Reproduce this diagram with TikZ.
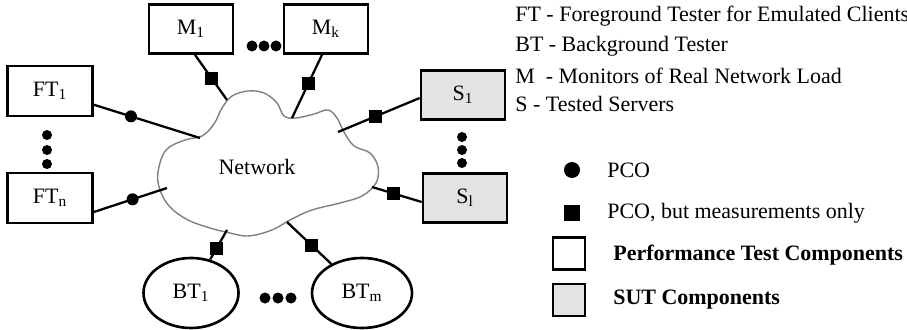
\documentclass[tikz,border=0pt]{standalone}
\usepackage{fontspec}
\setmainfont{Liberation Serif}
\usetikzlibrary{shapes, arrows, arrows.meta}

\begin{document}
\begin{tikzpicture}[
    font=\fontsize{12.5}{15}\selectfont,
    box/.style={draw, line width=1.5pt, minimum width=1.68cm, minimum height=0.98cm},
    sut/.style={box, fill=gray!22},
    bt/.style={draw, ellipse, line width=1.5pt, minimum width=1.9cm, minimum height=1.4cm},
    link/.style={line width=1.3pt},
    pco/.style={circle, fill, inner sep=0pt, minimum size=0.24cm},
    meas/.style={rectangle, fill, inner sep=0pt, minimum size=0.26cm},
    key/.style={anchor=west, inner sep=0pt}
]
\useasboundingbox (0,0) rectangle (18.14,6.58);

            \node[box] (m1) at (3.82, 6.00) {M\textsubscript{1}};
            \node[box] (mk) at (6.52, 6.00) {M\textsubscript{k}};
            \node[box, minimum width=1.7cm, minimum height=1cm] (ft1) at (1.00, 4.76) {FT\textsubscript{1}};
            \node[box, minimum width=1.7cm, minimum height=1cm] (ftn) at (1.00, 2.62) {FT\textsubscript{n}};
            \node[sut] (s1) at (9.26, 4.68) {S\textsubscript{1}};
            \node[sut] (sl) at (9.30, 2.62) {S\textsubscript{l}};
            \node[bt] (bt1) at (3.82, 0.72) {BT\textsubscript{1}};
            \node[bt, minimum width=2cm] (btm) at (7.24, 0.72) {BT\textsubscript{m}};

            \draw[gray, line width=0.8pt] plot[smooth cycle, tension=0.6] coordinates {
                (3.16, 3.14) (3.32, 3.58) (3.70, 3.78) (4.04, 3.86) (4.28, 4.10) (4.44, 4.42)
                (4.64, 4.66) (4.96, 4.76) (5.28, 4.72) (5.54, 4.52) (5.68, 4.26) (5.92, 4.22)
                (6.28, 4.30) (6.56, 4.38) (6.74, 4.22) (6.88, 3.94) (7.08, 3.66) (7.40, 3.52)
                (7.56, 3.24) (7.52, 2.92) (7.24, 2.66) (6.80, 2.52) (6.24, 2.38) (5.80, 2.18)
                (5.44, 1.98) (4.96, 1.86) (4.52, 1.94) (4.20, 2.02) (3.76, 2.18) (3.40, 2.44)
                (3.20, 2.78)};
            \node (net) at (5.14, 3.24) {Network};

            \coordinate (c-ft1) at (4.00, 3.82);
            \coordinate (c-ftn) at (3.34, 2.82);
            \coordinate (c-m1) at (4.54, 4.58);
            \coordinate (c-mk) at (5.84, 4.22);
            \coordinate (c-s1) at (6.76, 3.94);
            \coordinate (c-sl) at (7.44, 2.84);
            \coordinate (c-bt1) at (4.54, 1.98);
            \coordinate (c-btm) at (5.74, 2.14);

            \draw[link] (ft1) -- node[pco, pos=0.35] (p1) {} (c-ft1);
            \draw[link] ([yshift=-0.28cm]ftn.east) -- node[pco, pos=0.53] (p2) {} (c-ftn);
            \draw[link] ([xshift=0.08cm]m1.south) -- node[meas, pos=0.53] (q1) {} (c-m1);
            \draw[link] ([xshift=-0.08cm]mk.south) -- node[meas, pos=0.45] (q2) {} (c-mk);
            \draw[link] ([yshift=-0.06cm]s1.west) -- node[meas, pos=0.54] (q3) {} (c-s1);
            \draw[link] ([yshift=-0.08cm]sl.west) -- node[meas, pos=0.56] (q4) {} (c-sl);
            \draw[link] (bt1) -- node[meas, pos=0.36] (q5) {} (c-bt1);
            \draw[link] (btm) -- node[meas, pos=0.45] (q6) {} (c-btm);

            \foreach \x in {5.04, 5.28, 5.52} \fill (\x, 5.66) circle (0.11);
            \foreach \x in {5.30, 5.56, 5.82} \fill (\x, 0.62) circle (0.11);
            \foreach \y in {3.88, 3.58, 3.30} \fill (0.94, \y) circle (0.1);
            \foreach \y in {3.84, 3.58, 3.32} \fill (9.24, \y) circle (0.1);

            \node[key] (lft) at (10.30, 6.26) {FT - Foreground Tester for Emulated Clients};
            \node[key] (lbt) at (10.30, 5.66) {BT - Background Tester};
            \node[key] (lm) at (10.30, 5.06) {M\ \ - Monitors of Real Network Load};
            \node[key] (ls) at (10.30, 4.50) {S - Tested Servers};

            \node[pco, minimum size=0.32cm] (kpco) at (11.44, 3.18) {};
            \node[key] (lpco) at (12.14, 3.18) {PCO};
            \node[meas, minimum size=0.32cm] (kmeas) at (11.44, 2.32) {};
            \node[key] (lmeas) at (12.14, 2.32) {PCO, but measurements only};
            \node[draw, line width=1.2pt, minimum size=0.64cm] (kbox) at (11.38, 1.51) {};
            \node[key, font=\fontsize{12.5}{15}\selectfont\bfseries] (lbox) at (12.26, 1.48) {Performance Test Components};
            \node[draw, fill=gray!22, line width=1.2pt, minimum size=0.64cm] (ksut) at (11.38, 0.58) {};
            \node[key, font=\fontsize{12.5}{15}\selectfont\bfseries] (lsut) at (12.26, 0.58) {SUT Components};
    	\end{tikzpicture}
\end{document}
